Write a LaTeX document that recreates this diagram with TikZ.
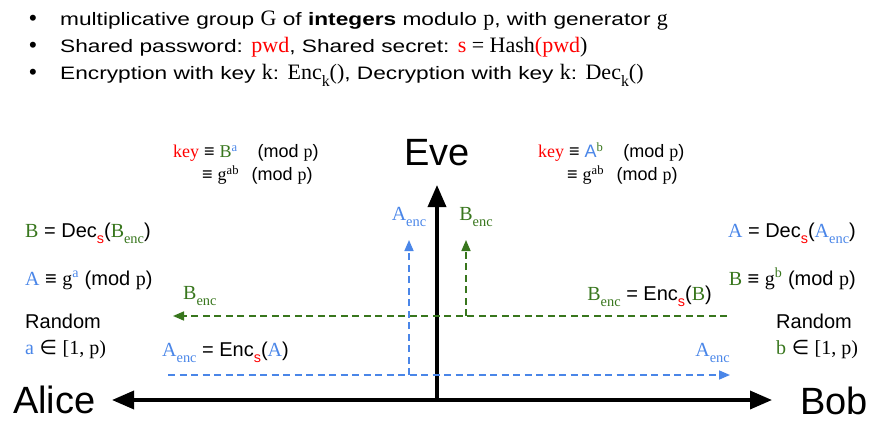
\documentclass[tikz,border=0pt]{standalone}
\usepackage{fontspec}
\usepackage{graphicx}
\setmainfont{Liberation Sans}
\newfontfamily\varfont{Liberation Serif}
\newfontfamily\symfont{DejaVu Sans}
\newfontfamily\widefont[FakeStretch=1.26]{Liberation Sans}
\usetikzlibrary{arrows.meta}

\definecolor{keyred}{HTML}{FF0000}
\definecolor{ablue}{HTML}{4A86E8}
\definecolor{bgreen}{HTML}{38761D}

\newcommand\fsz[1]{\fontsize{#1}{#1}\selectfont}
\newcommand\vf[1]{{\varfont #1}}% serif variables
\newcommand\bv[1]{{\varfont\fsz{22}#1}}% serif in header lines
\newcommand\dn[1]{\raisebox{-0.3em}{\scalebox{0.72}{#1}}}% low subscript
\newcommand\Aenc{\textcolor{ablue}{\vf{A\dn{enc}}}}
\newcommand\Benc{\textcolor{bgreen}{\vf{B\dn{enc}}}}
\newcommand\ssub{\dn{\textcolor{keyred}{s}}}

\begin{document}
\begin{tikzpicture}[x=1pt, y=-1pt,
    bul/.style = {inner sep=0pt, font=\fsz{18}\widefont},% bullet lines
    txt/.style = {inner sep=0pt, font=\fsz{20}},% side labels
 keytxt/.style = {inner sep=0pt, font=\fsz{18}},% key equations
    who/.style = {inner sep=0pt, font=\fsz{38}},
   axis/.style = {line width=3.5pt, -{Triangle[length=22pt,width=18pt]}},
   msgA/.style = {ablue, line width=1.6pt, dash pattern=on 7pt off 4.5pt,
                  -{Triangle[length=11pt,width=9pt]}},
   msgB/.style = {bgreen, line width=1.6pt, dash pattern=on 7pt off 4.5pt,
                  -{Triangle[length=11pt,width=9pt]}},
                        ]
\useasboundingbox (0,0) rectangle (885,422);
% header
\foreach \n/\y in {1/26,2/53,3/80}
    \node[bul, anchor=base, font=\fsz{22}] (dot\n) at (33,\y) {\textbullet};
\node[bul, anchor=base west] (line1) at (60,26)
    {multiplicative group \bv{G} of \textbf{integers} modulo \bv{p}, with generator \bv{g}};
\node[bul, anchor=base west] (line2) at (60,53)
    {Shared password: \textcolor{keyred}{\bv{pwd}}, Shared secret: \bv{\textcolor{keyred}{s} = Hash\textcolor{keyred}{(pwd})}};
\node[bul, anchor=base west] (line3) at (60,80)
    {Encryption with key \bv{k}: \bv{Enc\dn{k}()}, Decryption with key \bv{k}: \bv{Dec\dn{k}()}};
% parties
\node[who, anchor=base] (eve) at (437,165) {Eve};
\node[who, anchor=base west] (alice) at (13,413) {Alice};
\node[who, anchor=base west] (bob) at (800,414) {Bob};
\coordinate (O) at (437,400);
\coordinate (aliceTip) at (112,400);
\coordinate (bobTip) at (772,400);
\coordinate (eveTip) at (437,185);
% messages
\coordinate (A0) at (168,375);
\coordinate (A1) at (730,375);
\coordinate (Ac) at (409,375);
\coordinate (At) at (409,240);
\coordinate (B0) at (727,316);
\coordinate (B1) at (173,316);
\coordinate (Bc) at (466,316);
\coordinate (Bt) at (466,240);
\draw[axis] (O) -- (aliceTip);
\draw[axis] (O) -- (bobTip);
\draw[axis] (O) -- (eveTip);
\draw[msgA] (A0) -- (A1);
\draw[msgA] (Ac) -- (At);
\draw[msgB] (B0) -- (B1);
\draw[msgB] (Bc) -- (Bt);
\node[txt, anchor=base] (evA) at (At |- 0,220) {\Aenc};
\node[txt, anchor=base] (evB) at (476,220) {\Benc};
% keys
\node[keytxt, anchor=base west] (keyL1) at (173,158)
    {\textcolor{keyred}{\vf{key}} ≡ \textcolor{bgreen}{\vf{B}}\textsuperscript{\textcolor{ablue}{\vf{a}}}\hspace{1.1em}(mod \vf{p})};
\node[keytxt, anchor=base west] (keyL2) at (202,181)
    {≡ \vf{g\textsuperscript{ab}}\hspace{0.7em}(mod \vf{p})};
\node[keytxt, anchor=base west] (keyR1) at (538,158)
    {\textcolor{keyred}{\vf{key}} ≡ \textcolor{ablue}{A}\textsuperscript{\textcolor{bgreen}{\vf{b}}}\hspace{1.1em}(mod \vf{p})};
\node[keytxt, anchor=base west] (keyR2) at (567,181)
    {≡ \vf{g\textsuperscript{ab}}\hspace{0.7em}(mod \vf{p})};
% Alice side
\node[txt, anchor=base west] (decB) at (25,237)
    {\textcolor{bgreen}{\vf{B}} = Dec\ssub(\Benc)};
\node[txt, anchor=base west] (powA) at (25,285)
    {\textcolor{ablue}{\vf{A}} ≡ \vf{g}\textsuperscript{\textcolor{ablue}{\vf{a}}} (mod \vf{p})};
\node[txt, anchor=base west] (randA) at (25,328) {Random};
\node[txt, anchor=base west] (rngA) at (25,354)
    {\textcolor{ablue}{\vf{a}} {\symfont ∈} \vf{[1, p)}};
\node[txt, anchor=base west] (encA) at (162,356)
    {\Aenc{} = Enc\ssub(\textcolor{ablue}{\vf{A}})};
\node[txt, anchor=base west] (inB) at (183,299) {\Benc};
% Bob side
\node[txt, anchor=base east] (decA) at (856,237)
    {\textcolor{ablue}{\vf{A}} = Dec\ssub(\Aenc)};
\node[txt, anchor=base east] (powB) at (856,285)
    {\textcolor{bgreen}{\vf{B}} ≡ \vf{g}\textsuperscript{\textcolor{bgreen}{\vf{b}}} (mod \vf{p})};
\node[txt, anchor=base west] (randB) at (776,328) {Random};
\node[txt, anchor=base west] (rngB) at (776,354)
    {\textcolor{bgreen}{\vf{b}} {\symfont ∈} \vf{[1, p)}};
\node[txt, anchor=base east] (encB) at (712,300)
    {\Benc{} = Enc\ssub(\textcolor{bgreen}{\vf{B}})};
\node[txt, anchor=base east] (inA) at (730,356) {\Aenc};
\end{tikzpicture}
\end{document}
